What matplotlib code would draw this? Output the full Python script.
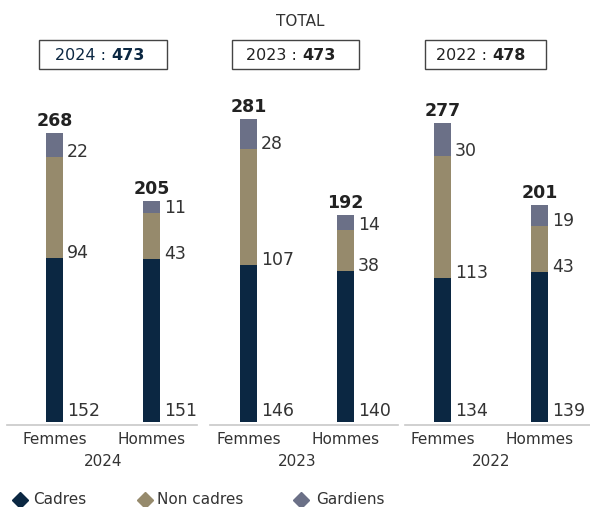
import numpy as np
import matplotlib.pyplot as plt
from matplotlib.patches import Rectangle
from matplotlib.lines import Line2D

# Data
years = ["2024", "2023", "2022"]
totals_year = [473, 473, 478]
genres = ["Femmes", "Hommes"]
cadres = [152, 151, 146, 140, 134, 139]
non_cadres = [94, 43, 107, 38, 113, 43]
gardiens = [22, 11, 28, 14, 30, 19]

c_cadres = "#0b2742"
c_non = "#968a6c"
c_gard = "#6b7087"
txt = "#333333"

W, H = 590, 507
fig = plt.figure(figsize=(W / 100, H / 100), dpi=100)

# axes: bar base at 422 px from top, 97 px between bars, first bar at 54.5 px
px_unit = 289 / 268
ax = fig.add_axes([0, (H - 422) / H, 1, 422 / H])
ax.set_xlim(-54.5 / 97, (W - 54.5) / 97)
ax.set_ylim(0, 422 / px_unit)
ax.axis("off")

x = np.arange(6)
cad = np.array(cadres)
non = np.array(non_cadres)
gar = np.array(gardiens)
w = 17 / 97
ax.bar(x, cad, w, color=c_cadres)
ax.bar(x, non, w, bottom=cad, color=c_non)
ax.bar(x, gar, w, bottom=cad + non, color=c_gard)

# segment labels (baseline on the base of each segment, right of the bar)
for i in range(6):
    for base, v, dy in [(0, cad[i], 4.5), (cad[i], non[i], 0), (cad[i] + non[i], gar[i], 0)]:
        ax.annotate(str(v), (x[i], base), xytext=(9, dy), textcoords="offset points",
                    ha="left", va="baseline", fontsize=12.5, color=txt)
    tot = cad[i] + non[i] + gar[i]
    ax.annotate(str(tot), (x[i], tot), xytext=(0, 5), textcoords="offset points",
                ha="center", va="baseline", fontsize=12.5, fontweight="bold",
                color="#222222")

# axis segments and category labels
seg = [(7, 197), (210, 398), (405, 590)]
for g in range(3):
    x0 = (seg[g][0] - 54.5) / 97
    x1 = (seg[g][1] - 54.5) / 97
    ax.plot([x0, x1], [-3 / px_unit] * 2, color="#c8c8c8", lw=1.2, clip_on=False)
    for k in range(2):
        ax.text(2 * g + k, -17 / px_unit, genres[k], ha="center", va="center",
                fontsize=11, color=txt)
    ax.text(2 * g + 0.5, -39 / px_unit, years[g], ha="center", va="center",
            fontsize=11, color=txt)

# header
fig.text(300 / W, 1 - 21 / H, "TOTAL", ha="center", va="center", fontsize=11, color=txt)
boxes = [(39, 167, 111), (232, 359, 302), (425, 546, 492)]
for g in range(3):
    bx0, bx1, split = boxes[g]
    col = c_cadres if g == 0 else "#222222"
    fig.patches.append(Rectangle((bx0 / W, 1 - 69 / H), (bx1 - bx0) / W, 29 / H,
                                 transform=fig.transFigure, fill=False,
                                 edgecolor="#444444", lw=1))
    fig.text(split / W, 1 - 55 / H, years[g] + " : ", ha="right", va="center",
             fontsize=11.5, color=col)
    fig.text(split / W, 1 - 55 / H, str(totals_year[g]), ha="left", va="center",
             fontsize=11.5, fontweight="bold", color=col)

# legend
for hx, tx, c, lab in zip([20, 145, 301], [33, 157, 316],
                          [c_cadres, c_non, c_gard],
                          ["Cadres", "Non cadres", "Gardiens"]):
    fig.lines.append(Line2D([hx / W], [1 - 500 / H], marker="D", ls="",
                            color=c, markersize=8, transform=fig.transFigure))
    fig.text(tx / W, 1 - 500 / H, lab, ha="left", va="center", fontsize=11, color=txt)

fig.savefig("out.png", dpi=100)
